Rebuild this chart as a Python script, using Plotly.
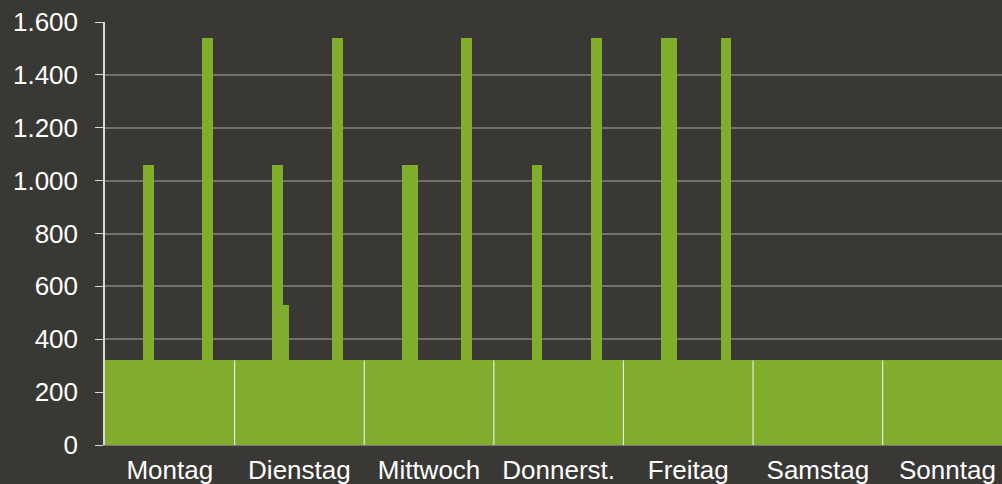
import plotly.graph_objects as go

# Wochentage und stündliche Last (Grundlast + Spitzen)
days = ["Montag", "Dienstag", "Mittwoch", "Donnerst.", "Freitag", "Samstag", "Sonntag"]
hours_per_day = 24
base_load = [320, 320, 320, 320, 320, 320, 320]

# Spitzen: Tag-Index, Startstunde, Dauer (h), Wert
peak_day = [0, 0, 1, 1, 1, 2, 2, 3, 3, 4, 4]
peak_start = [7, 18, 7, 9, 18, 7, 18, 7, 18, 7, 18]
peak_hours = [2, 2, 2, 1, 2, 3, 2, 2, 2, 3, 2]
peak_value = [1060, 1540, 1060, 530, 1540, 1060, 1540, 1060, 1540, 1540, 1540]

green = "#80ad2b"
bg = "#3a3834"

peak_x = [d * hours_per_day + s + h / 2 for d, s, h in zip(peak_day, peak_start, peak_hours)]
day_x = [i * hours_per_day + hours_per_day / 2 for i in range(len(days))]

fig = go.Figure()

# Spitzen zuerst, damit die Grundlast darüber liegt
fig.add_trace(go.Bar(
    x=peak_x, y=peak_value, width=peak_hours,
    marker=dict(color=green, line=dict(width=0)),
    hoverinfo="y", showlegend=False,
))
fig.add_trace(go.Bar(
    x=day_x, y=base_load, width=[hours_per_day] * len(days),
    marker=dict(color=green, line=dict(width=0)),
    hoverinfo="y", showlegend=False,
))

# weiße Trennlinien zwischen den Tagen
for i in range(1, len(days)):
    fig.add_shape(
        type="line", xref="x", yref="y",
        x0=i * hours_per_day, x1=i * hours_per_day, y0=0, y1=base_load[i],
        line=dict(color="#e6e6e6", width=1.2),
    )

fig.update_layout(
    width=1002, height=484,
    paper_bgcolor=bg, plot_bgcolor=bg,
    margin=dict(l=105, r=0, t=22, b=39),
    barmode="overlay", bargap=0,
    separators=",.",
    font=dict(family="Liberation Sans, Arial, sans-serif", size=26, color="#ffffff"),
    xaxis=dict(
        range=[0, 166.1],
        tickvals=day_x, ticktext=days,
        showgrid=False, zeroline=False,
        showline=True, linecolor="#777572", linewidth=1,
        ticks="", ticklabelstandoff=2,
    ),
    yaxis=dict(
        range=[0, 1600], dtick=200, tickformat=",",
        showgrid=True, gridcolor="#73716d", gridwidth=1.5,
        zeroline=False,
        showline=True, linecolor="#d9d9d9", linewidth=1.5,
        ticks="outside", ticklen=8, tickcolor="#d9d9d9",
        ticklabelstandoff=12,
    ),
)

fig.write_html(
    "out.html",
    config={"displayModeBar": False},
    post_script="document.body.style.margin='0';",
)
